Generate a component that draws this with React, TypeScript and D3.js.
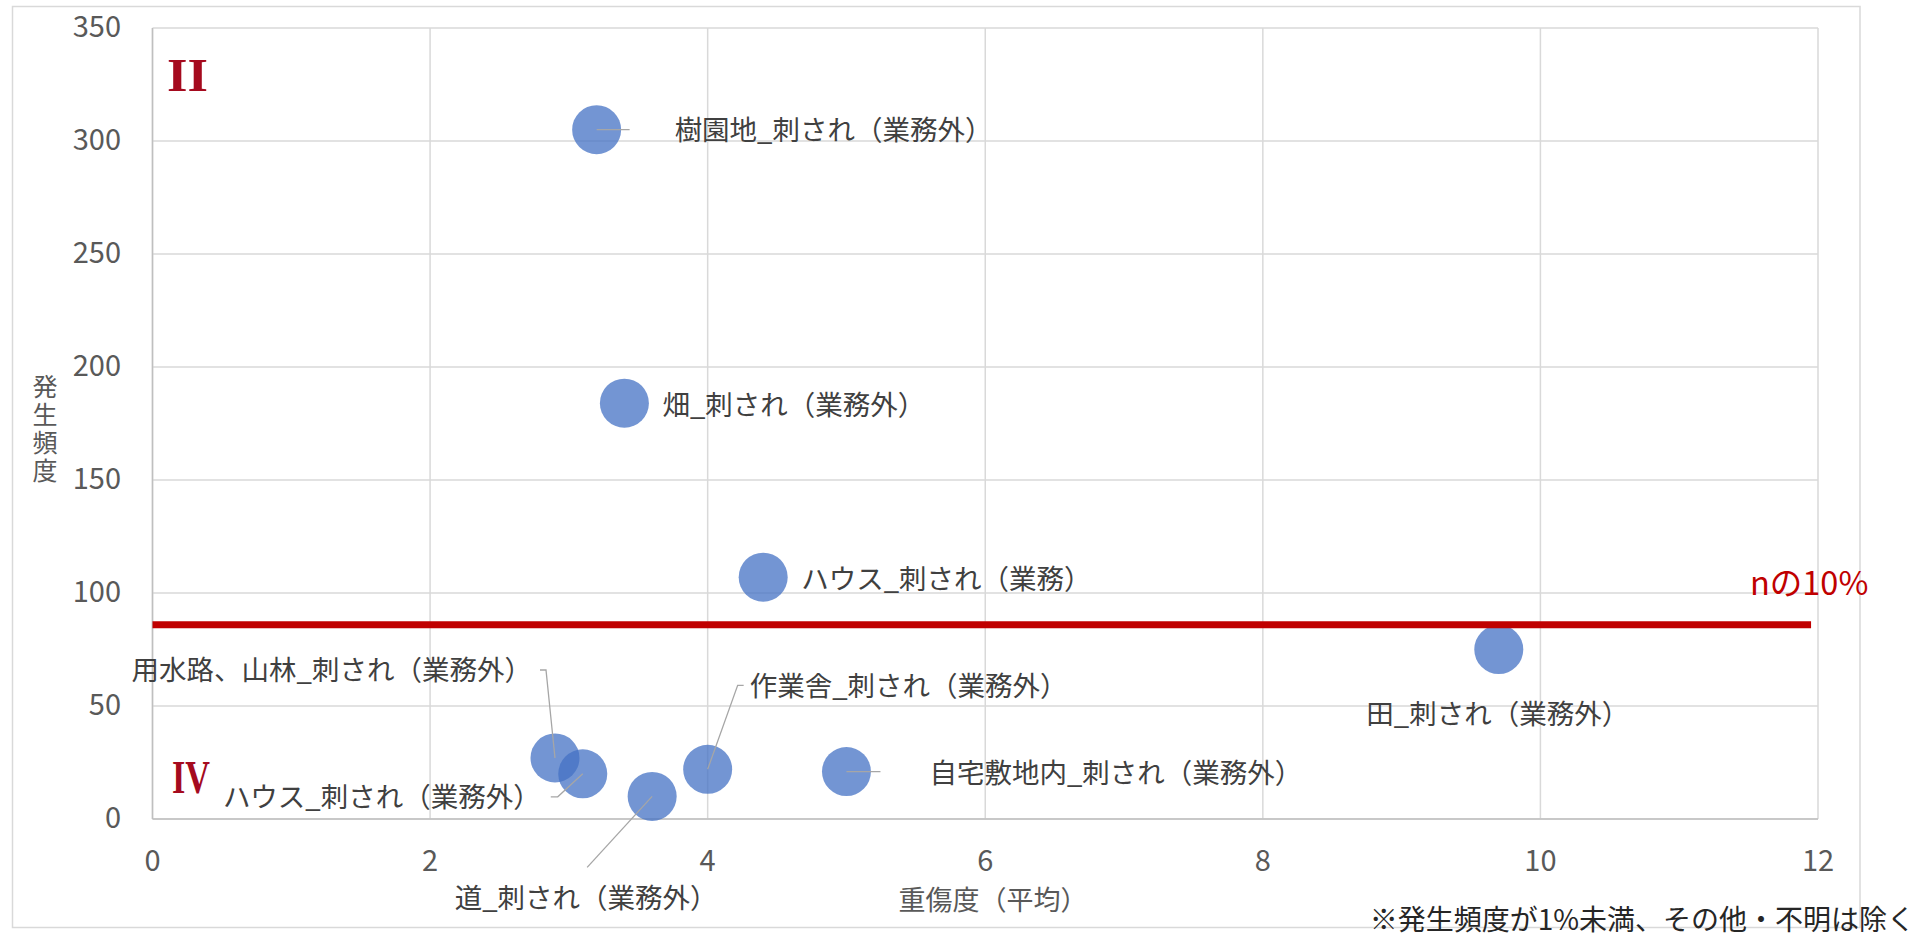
import React from 'react';
import * as d3 from 'd3';

// ---- data ----
const categories = [
  '樹園地_刺され（業務外）',
  '畑_刺され（業務外）',
  'ハウス_刺され（業務）',
  '用水路、山林_刺され（業務外）',
  'ハウス_刺され（業務外）',
  '道_刺され（業務外）',
  '作業舎_刺され（業務外）',
  '自宅敷地内_刺され（業務外）',
  '田_刺され（業務外）',
];
const severity = [3.2, 3.4, 4.4, 2.9, 3.1, 3.6, 4.0, 5.0, 9.7];
const frequency = [305, 184, 107, 27, 20, 10, 22, 21, 75];
const xTicks = [0, 2, 4, 6, 8, 10, 12];
const yTicks = [0, 50, 100, 150, 200, 250, 300, 350];
const thresholdX = [0, 11.95];
const thresholdY = 86;
const thresholdLabel = 'nの10%';
const xTitle = '重傷度（平均）';
const yTitle = '発生頻度';
const note = '※発生頻度が1%未満、その他・不明は除く';
const quadrantTop = 'II';
const quadrantBottom = 'IV';

// ---- layout (label placement relative to bubble centre, px) ----
type Lay = { dx: number; dy: number; anchor: string; leader?: [number, number][] };
const labelLayout: Lay[] = [
  { dx: 78, dy: -1.5, anchor: 'start', leader: [[0, 0], [33, 0]] },
  { dx: 38, dy: 0, anchor: 'start' },
  { dx: 38, dy: 0, anchor: 'start' },
  { dx: -23, dy: -90, anchor: 'end', leader: [[-15, -88], [-9, -88], [0, 0]] },
  { dx: -42, dy: 21, anchor: 'end', leader: [[-32, 23], [-25, 23], [0, 0]] },
  { dx: -66, dy: 100, anchor: 'middle', leader: [[-65, 71], [0, 0]] },
  { dx: 42, dy: -85, anchor: 'start', leader: [[36, -84], [30, -84], [0, 0]] },
  { dx: 83, dy: -1, anchor: 'start', leader: [[0, 0], [34, 0]] },
  { dx: -1, dy: 62, anchor: 'middle' },
];

const W = 1931;
const H = 938;
const plot = { left: 152.5, right: 1818, top: 28, bottom: 819 };
const FONT = '"Noto Sans CJK JP", "Noto Sans", sans-serif';

export default function App() {
  const x = d3.scaleLinear().domain([0, 12]).range([plot.left, plot.right]);
  const y = d3.scaleLinear().domain([0, 350]).range([plot.bottom, plot.top]);
  const line = d3.line<[number, number]>().x((d) => d[0]).y((d) => d[1]);
  const r = 24.5;

  return (
    <svg
      width={W}
      height={H}
      style={{ position: 'absolute', left: 0, top: 0, display: 'block', background: '#fff' }}
      fontFamily={FONT}
    >
      <rect x={12.5} y={6.5} width={1847.5} height={921} fill="#fff" stroke="#D9D9D9" strokeWidth={1.5} />

      {/* gridlines */}
      {yTicks.map((t) => (
        <line key={'gy' + t} x1={plot.left} x2={plot.right} y1={y(t)} y2={y(t)} stroke="#D9D9D9" strokeWidth={1.5} />
      ))}
      {xTicks.map((t) => (
        <line key={'gx' + t} x1={x(t)} x2={x(t)} y1={plot.top} y2={plot.bottom} stroke="#D9D9D9" strokeWidth={1.5} />
      ))}
      {/* axes */}
      <line x1={plot.left} x2={plot.left} y1={plot.top} y2={plot.bottom} stroke="#BFBFBF" strokeWidth={1.5} />
      <line x1={plot.left} x2={plot.right} y1={plot.bottom} y2={plot.bottom} stroke="#BFBFBF" strokeWidth={1.5} />

      {/* tick labels */}
      {yTicks.map((t) => (
        <text key={'ty' + t} x={121} y={y(t) - 4} textAnchor="end" dominantBaseline="central" fontSize={29} fill="#595959">
          {t}
        </text>
      ))}
      {xTicks.map((t) => (
        <text key={'tx' + t} x={x(t)} y={858} textAnchor="middle" dominantBaseline="central" fontSize={29} fill="#595959">
          {t}
        </text>
      ))}

      {/* axis titles */}
      <text x={993} y={898} textAnchor="middle" dominantBaseline="central" fontSize={27} fill="#595959">
        {xTitle}
      </text>
      <text
        x={45}
        y={430}
        textAnchor="middle"
        fontSize={25}
        fill="#595959"
        letterSpacing={3}
        style={{ writingMode: 'vertical-rl', textOrientation: 'upright' } as any}
      >
        {yTitle}
      </text>

      {/* bubbles */}
      {severity.map((sv, i) => (
        <circle key={'b' + i} cx={x(sv)} cy={y(frequency[i])} r={r} fill="#4472C4" fillOpacity={0.75} />
      ))}

      {/* threshold line */}
      <line
        x1={x(thresholdX[0])}
        x2={x(thresholdX[1])}
        y1={y(thresholdY)}
        y2={y(thresholdY)}
        stroke="#C00000"
        strokeWidth={7}
      />
      <text x={1750} y={580} dominantBaseline="central" fontSize={32.5} fill="#C00000">
        {thresholdLabel}
      </text>

      {/* leader lines and labels */}
      {categories.map((c, i) => {
        const cx = x(severity[i]);
        const cy = y(frequency[i]);
        const L = labelLayout[i];
        return (
          <g key={'l' + i}>
            {L.leader && (
              <path
                d={line(L.leader.map((p) => [cx + p[0], cy + p[1]] as [number, number])) || ''}
                fill="none"
                stroke="#A6A6A6"
                strokeWidth={1.3}
              />
            )}
            <text
              x={cx + L.dx}
              y={cy + L.dy}
              textAnchor={L.anchor as any}
              dominantBaseline="central"
              fontSize={27.5}
              fill="#404040"
            >
              {c}
            </text>
          </g>
        );
      })}

      {/* quadrant marks */}
      <text
        x={167}
        y={90.5}
        fontFamily='"Liberation Serif", "DejaVu Serif", serif'
        fontWeight="bold"
        fontSize={47}
        fill="#A50A1E"
        textLength={41}
        lengthAdjust="spacingAndGlyphs"
      >
        {quadrantTop}
      </text>
      <text
        x={172}
        y={793}
        fontFamily='"Liberation Serif", "DejaVu Serif", serif'
        fontWeight="bold"
        fontSize={47}
        fill="#A50A1E"
        textLength={38}
        lengthAdjust="spacingAndGlyphs"
      >
        {quadrantBottom}
      </text>

      {/* note */}
      <text x={1915} y={918} textAnchor="end" dominantBaseline="central" fontSize={28} fill="#262626">
        {note}
      </text>
    </svg>
  );
}
